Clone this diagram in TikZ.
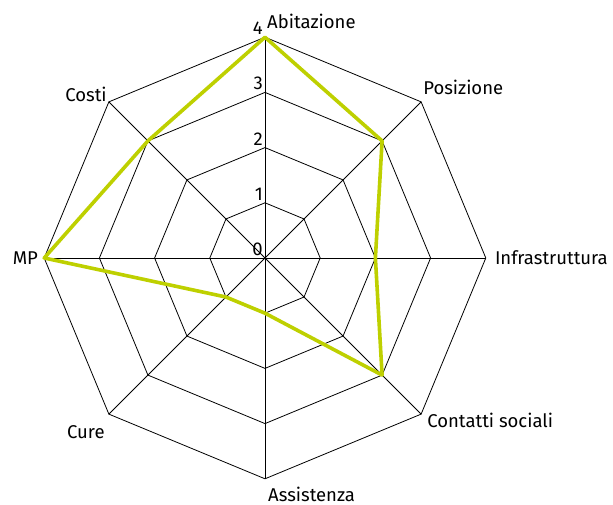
\documentclass[tikz,border=0pt]{standalone}
\usepackage{fontspec}
\setmainfont{Fira Sans}
\usetikzlibrary{calc}
\definecolor{lime}{RGB}{190,208,0}

\begin{document}
\begin{tikzpicture}[x=1pt, y=1pt, font=\fontsize{18.5}{22}\selectfont]
\useasboundingbox (-265,-247) rectangle (348,258);
\def\lev{55.2}

% octagons
\foreach \r in {1,...,4} {
  \draw [line width=0.8pt] (0:\r*\lev) \foreach \a in {45,90,...,315} { -- (\a:\r*\lev) } -- cycle;
}

% axes
\foreach \a in {0,45,...,315} {
  \draw [line width=0.8pt] (0,0) -- (\a:4*\lev);
}

\coordinate (abit) at (90:4*\lev);
\coordinate (posi) at (45:4*\lev);
\coordinate (infra) at (0:4*\lev);
\coordinate (conta) at (-45:4*\lev);
\coordinate (assi) at (-90:4*\lev);
\coordinate (cure) at (-135:4*\lev);
\coordinate (mp) at (180:4*\lev);
\coordinate (costi) at (135:4*\lev);

\node [anchor=south west, inner sep=2pt, yshift=6pt] at (abit) {Abitazione};
\node [anchor=south west, inner sep=2pt, yshift=5pt] at (posi) {Posizione};
\node [anchor=west, inner sep=9pt] at (infra) {Infrastruttura};
\node [anchor=north west, inner sep=6pt, yshift=7pt] at (conta) {Contatti sociali};
\node [anchor=north west, inner sep=3pt, yshift=-5pt] at (assi) {Assistenza};
\node [anchor=north east, inner sep=4pt, yshift=-7pt] at (cure) {Cure};
\node [anchor=east, inner sep=6pt] at (mp) {MP};
\node [anchor=south east, inner sep=2pt, yshift=-2pt] at (costi) {Costi};

% level numbers
\foreach \r in {0,...,4} {
  \node [anchor=south east, inner sep=2pt] (n\r) at (90:\r*\lev) {\r};
}

% values
\coordinate (v1) at (90:4*\lev);
\coordinate (v2) at (45:3*\lev);
\coordinate (v3) at (0:2*\lev);
\coordinate (v4) at (-45:3*\lev);
\coordinate (v5) at (-90:1*\lev);
\coordinate (v6) at (-135:1*\lev);
\coordinate (v7) at (180:4*\lev);
\coordinate (v8) at (135:3*\lev);
\draw [line width=3.6pt, color=lime, line join=round] (v1) -- (v2) -- (v3) -- (v4) -- (v5) -- (v6) -- (v7) -- (v8) -- cycle;
\end{tikzpicture}
\end{document}
